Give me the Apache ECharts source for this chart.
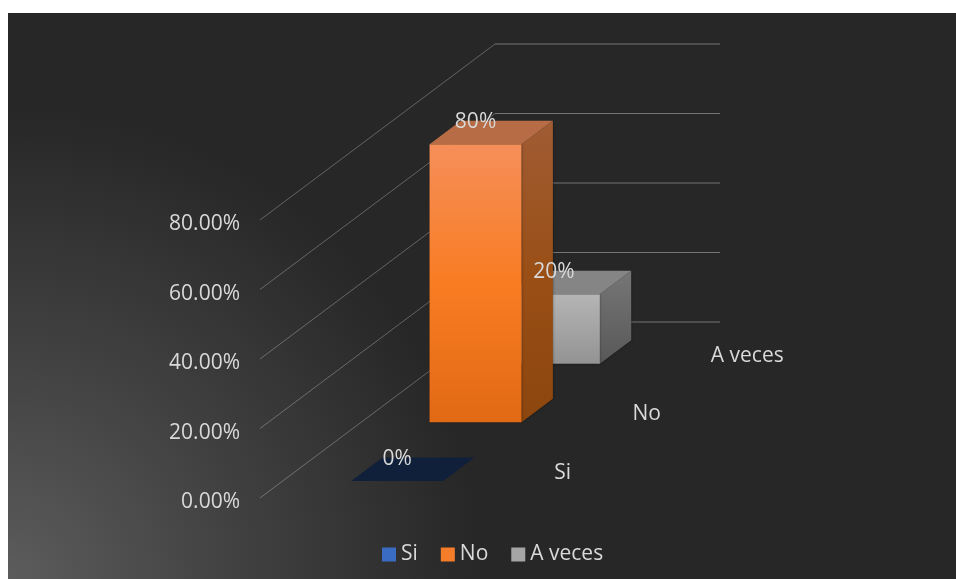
<!DOCTYPE html>
<html>
<head>
<meta charset="utf-8">
<script src="https://cdn.jsdelivr.net/npm/echarts@6/dist/echarts.min.js"></script>
<style>
  html, body { margin: 0; padding: 0; background: #fff; }
  #chart { width: 956px; height: 579px; }
</style>
</head>
<body>
<div id="chart"></div>
<script>
const categories = ['Si', 'No', 'A veces'];
const percentValues = [0, 80, 20];
const percentLabels = ['0%', '80%', '20%'];
const yTicks = [0, 20, 40, 60, 80];
const legendColors = ['#3a6cc4', '#f57d2a', '#a5a5a5'];

// caras de cada barra: frente (arriba, abajo), lado (arriba, abajo), tapa
const faceColors = [
  { front: ['#10203a', '#10203a'], side: ['#10203a', '#10203a'], top: '#10203a' },
  { front: ['#f58f59', '#f97c23', '#e26a14'], side: ['#a05c34', '#9a4f16', '#8c460e'], top: '#b76c45' },
  { front: ['#b5b5b5', '#939393'], side: ['#767676', '#585858'], top: '#858585' }
];

// proyeccion oblicua, cada categoria se desplaza hacia atras
const DEPTH_Y = 176 / 3;
const BAR_LEFT = 68.5;
const BAR_RIGHT = 160.5;
const BAR_FRONT = 0.29;
const BAR_BACK = 0.69;
const WALL_WIDTH = 225;
const TEXT_COLOR = '#d9d9d9';
const FONT = '"Open Sans", sans-serif';

function project(api, depth, lateral, value) {
  const p = api.coord([depth, value]);
  return [p[0] + lateral, p[1] - depth * DEPTH_Y];
}

function vGradient(stops) {
  return {
    type: 'linear', x: 0, y: 0, x2: 0, y2: 1,
    colorStops: stops.map((c, i) => ({ offset: i / (stops.length - 1), color: c }))
  };
}

function renderWall(params, api) {
  const v = api.value(0);
  const a = project(api, 0, 0, v);
  const b = project(api, 3, 0, v);
  const c = [b[0] + WALL_WIDTH, b[1]];
  return {
    type: 'group',
    children: [
      { type: 'line', shape: { x1: a[0], y1: a[1], x2: b[0], y2: b[1] }, style: { stroke: 'rgba(255,255,255,0.28)', lineWidth: 1 } },
      { type: 'line', shape: { x1: b[0], y1: b[1], x2: c[0], y2: c[1] }, style: { stroke: 'rgba(255,255,255,0.36)', lineWidth: 1 } }
    ]
  };
}

function renderBar(params, api) {
  const i = api.value(0);
  const v = api.value(1);
  const colors = faceColors[i];
  const f = i + BAR_FRONT;
  const k = i + BAR_BACK;
  const fl0 = project(api, f, BAR_LEFT, 0);
  const fr0 = project(api, f, BAR_RIGHT, 0);
  const fl = project(api, f, BAR_LEFT, v);
  const fr = project(api, f, BAR_RIGHT, v);
  const kl = project(api, k, BAR_LEFT, v);
  const kr = project(api, k, BAR_RIGHT, v);
  const kr0 = project(api, k, BAR_RIGHT, 0);
  const shadow = { shadowBlur: 3, shadowColor: 'rgba(0,0,0,0.45)' };
  return {
    type: 'group',
    children: [
      { type: 'polygon', shape: { points: [fr, kr, kr0, fr0] }, style: { fill: vGradient(colors.side), ...shadow } },
      { type: 'polygon', shape: { points: [fl, fr, fr0, fl0] }, style: { fill: vGradient(colors.front), ...shadow } },
      { type: 'polygon', shape: { points: [fl, kl, kr, fr] }, style: { fill: colors.top } }
    ]
  };
}

function renderValueLabel(params, api) {
  const i = api.value(0);
  const p = project(api, i + BAR_FRONT, (BAR_LEFT + BAR_RIGHT) / 2, api.value(1));
  return {
    type: 'text',
    style: {
      x: p[0], y: p[1] - 22, text: percentLabels[i],
      fill: TEXT_COLOR, font: '21px ' + FONT, align: 'center', verticalAlign: 'middle'
    }
  };
}

function renderCategoryLabel(params, api) {
  const i = api.value(0);
  const p = project(api, i + 0.5, 255, 0);
  return {
    type: 'text',
    style: {
      x: p[0], y: p[1] + 4.5, text: categories[i],
      fill: TEXT_COLOR, font: '21px ' + FONT, align: 'left', verticalAlign: 'middle'
    }
  };
}

const barSeries = categories.map((name, i) => ({
  name: name,
  type: 'custom',
  coordinateSystem: 'cartesian2d',
  renderItem: renderBar,
  itemStyle: { color: legendColors[i] },
  encode: { x: 0, y: 1 },
  data: [[i, percentValues[i]]],
  silent: true,
  z: 5 + (categories.length - i)
}));

const chart = echarts.init(document.getElementById('chart'));
chart.setOption({
  animation: false,
  graphic: [{
    type: 'rect',
    z: -10,
    silent: true,
    shape: { x: 8, y: 13, width: 948, height: 566 },
    style: {
      fill: {
        type: 'radial', x: 8, y: 579, r: 470, global: true,
        colorStops: [
          { offset: 0, color: '#5c5c5c' },
          { offset: 0.45, color: '#434343' },
          { offset: 1, color: '#272727' }
        ]
      }
    }
  }],
  legend: {
    data: categories,
    left: 382,
    top: 544,
    padding: 0,
    icon: 'rect',
    itemWidth: 14,
    itemHeight: 14,
    itemGap: 23,
    textStyle: { color: TEXT_COLOR, fontSize: 21, fontFamily: FONT }
  },
  grid: { left: 260, top: 220, width: 235, height: 278 },
  xAxis: { type: 'value', min: 0, max: 3, show: false },
  yAxis: {
    type: 'value',
    min: 0,
    max: 80,
    interval: 20,
    axisLine: { show: false },
    axisTick: { show: false },
    splitLine: { show: false },
    axisLabel: {
      margin: 20,
      color: TEXT_COLOR,
      fontSize: 21,
      fontFamily: FONT,
      verticalAlign: 'top',
      lineHeight: 9,
      formatter: v => v.toFixed(2) + '%'
    }
  },
  series: [
    {
      name: 'wall',
      type: 'custom',
      renderItem: renderWall,
      encode: { x: -1, y: 0 },
      data: yTicks.map(t => [t]),
      silent: true,
      z: 2
    },
    ...barSeries,
    {
      name: 'valueLabels',
      type: 'custom',
      renderItem: renderValueLabel,
      encode: { x: 0, y: 1 },
      data: percentValues.map((v, i) => [i, v]),
      silent: true,
      z: 20
    },
    {
      name: 'categoryLabels',
      type: 'custom',
      renderItem: renderCategoryLabel,
      encode: { x: 0 },
      data: categories.map((c, i) => [i]),
      silent: true,
      z: 20
    }
  ]
});
</script>
</body>
</html>
